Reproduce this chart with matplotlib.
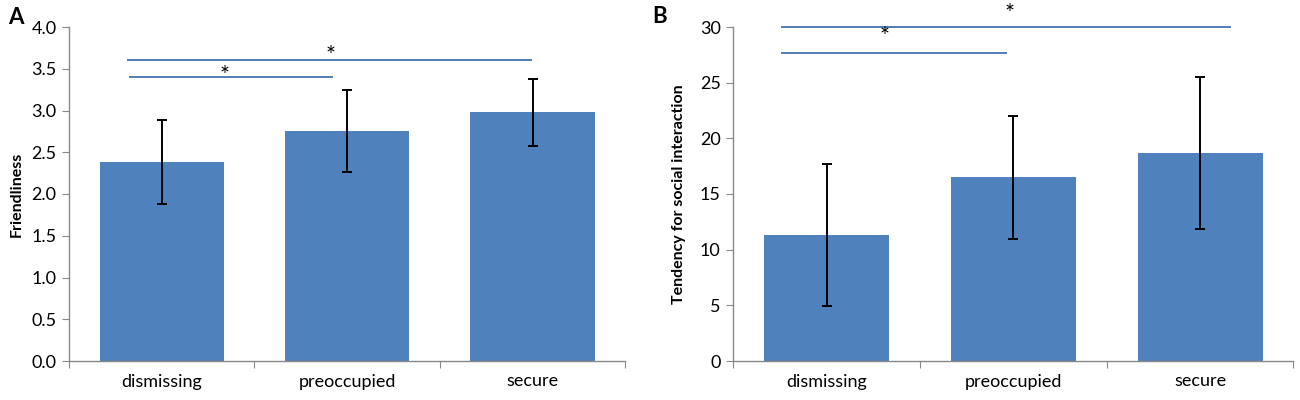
import matplotlib
matplotlib.use("Agg")
import matplotlib.pyplot as plt

plt.rcParams['font.family'] = ['Lato', 'DejaVu Sans']

# data
groups = ['dismissing', 'preoccupied', 'secure']

friendliness = [2.38, 2.75, 2.98]
friendliness_err = [0.505, 0.49, 0.40]

social = [11.3, 16.5, 18.7]
social_err = [6.35, 5.55, 6.8]

# significance brackets: (x start, x end, y line, star x, star y)
sig_a = [(-0.17, 0.92, 3.40, 0.34, 3.42),
         (-0.18, 1.99, 3.61, 0.91, 3.66)]
sig_b = [(-0.24, 0.96, 27.7, 0.31, 29.15),
         (-0.24, 2.16, 30.0, 0.98, 31.2)]

bar_color = '#4F81BD'
line_color = '#4F7EB5'
axis_color = '#888888'


def draw_panel(ax, values, errs, sig, ymax, ystep, ylabel, fmt):
    x = range(len(groups))
    ax.bar(x, values, width=0.67, color=bar_color, zorder=2)
    ax.errorbar(x, values, yerr=errs, fmt='none', ecolor='black',
                elinewidth=1.4, capsize=3.5, capthick=1.4, zorder=3)
    for x0, x1, yl, sx, sy in sig:
        ax.plot([x0, x1], [yl, yl], color=line_color, lw=1.4,
                clip_on=False, zorder=4)
        ax.text(sx, sy, '*', ha='center', va='center', fontsize=17,
                clip_on=False, zorder=5)
    ax.set_xlim(-0.5, len(groups) - 0.5)
    ax.set_ylim(0, ymax)
    ticks = [i * ystep for i in range(int(round(ymax / ystep)) + 1)]
    ax.set_yticks(ticks)
    ax.set_yticklabels([fmt.format(t) for t in ticks], fontsize=13)
    ax.set_xticks([-0.5, 0.5, 1.5, 2.5])
    ax.set_xticklabels([])
    ax.set_xticks(list(x), minor=True)
    ax.set_xticklabels(groups, minor=True, fontsize=13)
    ax.tick_params(axis='x', which='minor', length=0, pad=9)
    ax.tick_params(axis='x', which='major', direction='out', length=5,
                   color=axis_color)
    ax.tick_params(axis='y', direction='out', length=5, color=axis_color,
                   pad=4)
    for s in ['top', 'right']:
        ax.spines[s].set_visible(False)
    for s in ['left', 'bottom']:
        ax.spines[s].set_color(axis_color)
        ax.spines[s].set_linewidth(1.0)
    ax.set_ylabel(ylabel, fontsize=11.5, fontweight='bold')


fig = plt.figure(figsize=(13, 4), dpi=100)
ax_a = fig.add_axes([0.053, 0.0975, 0.428, 0.835])
ax_b = fig.add_axes([0.564, 0.0975, 0.431, 0.835])

draw_panel(ax_a, friendliness, friendliness_err, sig_a, 4.0, 0.5,
           'Friendliness', '{:.1f}')
draw_panel(ax_b, social, social_err, sig_b, 30, 5,
           'Tendency for social interaction', '{:.0f}')

ax_a.yaxis.set_label_coords(-0.082, 0.5)
ax_b.yaxis.set_label_coords(-0.085, 0.5)

fig.text(0.006, 0.955, 'A', fontsize=16, fontweight='bold', va='center')
fig.text(0.502, 0.958, 'B', fontsize=16, fontweight='bold', va='center')

fig.savefig('out.png', dpi=100)
